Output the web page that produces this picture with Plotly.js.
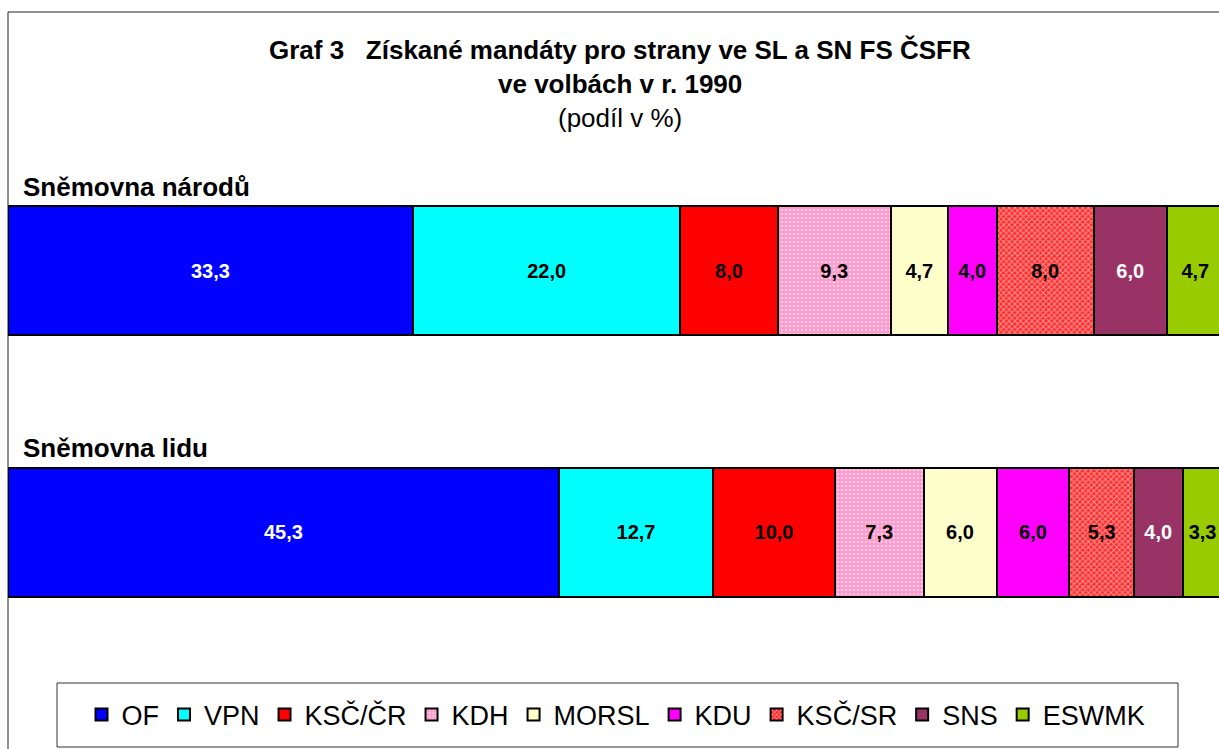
<!DOCTYPE html>
<html>
<head>
<meta charset="utf-8">
<script src="https://cdn.plot.ly/plotly-3.0.1.min.js"></script>
<style>html,body{margin:0;padding:0;background:#fff;}#chart{width:1219px;height:749px;}</style>
</head>
<body>
<div id="chart"></div>
<script>
// ---- data ----
const chambers = ['Sněmovna lidu', 'Sněmovna národů'];
const parties = ['OF', 'VPN', 'KSČ/ČR', 'KDH', 'MORSL', 'KDU', 'KSČ/SR', 'SNS', 'ESWMK'];
// share of seats (%) per party, [lidu, národů]
const OF     = [45.3, 33.3];
const VPN    = [12.7, 22.0];
const KSC_CR = [10.0, 8.0];
const KDH    = [7.3, 9.3];
const MORSL  = [6.0, 4.7];
const KDU    = [6.0, 4.0];
const KSC_SR = [5.3, 8.0];
const SNS    = [4.0, 6.0];
const ESWMK  = [3.3, 4.7];
const seriesValues = [OF, VPN, KSC_CR, KDH, MORSL, KDU, KSC_SR, SNS, ESWMK];

// ---- styles ----
const colors = ['#0000FF', '#00FFFF', '#FF0000', '#FF99CC', '#FFFFCC', '#FF00FF', '#FF2A2A', '#993366', '#99CC00'];
const textColors = ['#FFFFFF', '#000000', '#000000', '#000000', '#000000', '#000000', '#000000', '#FFFFFF', '#000000'];
const patterns = [null, null, null,
  {shape: '.', fgcolor: '#FFFFFF', bgcolor: '#FF99CC', size: 4, solidity: 0.35, fillmode: 'overlay'},
  null, null,
  {shape: 'x', fgcolor: '#FFFFFF', bgcolor: '#FF2A2A', size: 4, solidity: 0.45, fillmode: 'overlay'},
  null, null];

const font = 'Liberation Sans, Arial, sans-serif';

const traces = parties.map((p, i) => {
  const marker = {color: colors[i], line: {color: '#000000', width: 2}};
  if (patterns[i]) marker.pattern = patterns[i];
  return {
    type: 'bar',
    orientation: 'h',
    name: p,
    y: chambers,
    x: seriesValues[i],
    width: 0.493,
    marker: marker,
    texttemplate: '<b>%{x:.1f}</b>',
    textposition: 'inside',
    insidetextanchor: 'middle',
    textangle: 0,
    constraintext: 'none',
    textfont: {family: font, size: 20, color: textColors[i]},
    hoverinfo: 'skip'
  };
});

// pixel helpers for paper coords (plot area: left 8, width 1211, top 140, height 523)
const px2x = v => (v - 8) / 1211;
const px2y = v => (663 - v) / 523;

const layout = {
  width: 1219,
  height: 749,
  margin: {l: 8, r: 0, t: 140, b: 86},
  paper_bgcolor: '#FFFFFF',
  plot_bgcolor: '#FFFFFF',
  barmode: 'stack',
  separators: ', ',
  showlegend: true,
  font: {family: font, color: '#000000'},
  xaxis: {range: [0, 99.6], visible: false, fixedrange: true},
  yaxis: {type: 'category', categoryarray: chambers, range: [-0.5, 1.5], visible: false, fixedrange: true},
  legend: {
    orientation: 'h',
    x: px2x(616), xanchor: 'center',
    y: px2y(715), yanchor: 'middle',
    font: {family: font, size: 27, color: '#000000'},
    bgcolor: 'rgba(0,0,0,0)',
    borderwidth: 0,
    traceorder: 'normal'
  },
  shapes: [
    {type: 'rect', xref: 'paper', yref: 'paper', x0: 0, x1: 1.2, y0: -0.4, y1: px2y(12),
     line: {color: '#222222', width: 1}, fillcolor: 'rgba(0,0,0,0)', layer: 'below'},
    {type: 'rect', xref: 'paper', yref: 'paper', x0: px2x(57), x1: px2x(1178), y0: px2y(747), y1: px2y(683),
     line: {color: '#333333', width: 1}, fillcolor: '#FFFFFF', layer: 'below'}
  ],
  annotations: [
    {text: '<b>Graf 3   Získané mandáty pro strany ve SL a SN FS ČSFR</b>', xref: 'paper', yref: 'paper',
     x: px2x(620), y: px2y(50), xanchor: 'center', yanchor: 'middle', showarrow: false,
     font: {family: font, size: 26, color: '#000000'}},
    {text: '<b>ve volbách v r. 1990</b>', xref: 'paper', yref: 'paper',
     x: px2x(620), y: px2y(84), xanchor: 'center', yanchor: 'middle', showarrow: false,
     font: {family: font, size: 26, color: '#000000'}},
    {text: '(podíl v %)', xref: 'paper', yref: 'paper',
     x: px2x(620), y: px2y(118), xanchor: 'center', yanchor: 'middle', showarrow: false,
     font: {family: font, size: 26, color: '#000000'}},
    {text: '<b>' + chambers[1] + '</b>', xref: 'paper', yref: 'y',
     x: px2x(21), y: chambers[1], yshift: 84, xanchor: 'left', yanchor: 'middle', showarrow: false,
     font: {family: font, size: 26, color: '#000000'}},
    {text: '<b>' + chambers[0] + '</b>', xref: 'paper', yref: 'y',
     x: px2x(21), y: chambers[0], yshift: 84, xanchor: 'left', yanchor: 'middle', showarrow: false,
     font: {family: font, size: 26, color: '#000000'}}
  ]
};

Plotly.newPlot('chart', traces, layout, {displayModeBar: false, staticPlot: true});
</script>
</body>
</html>
